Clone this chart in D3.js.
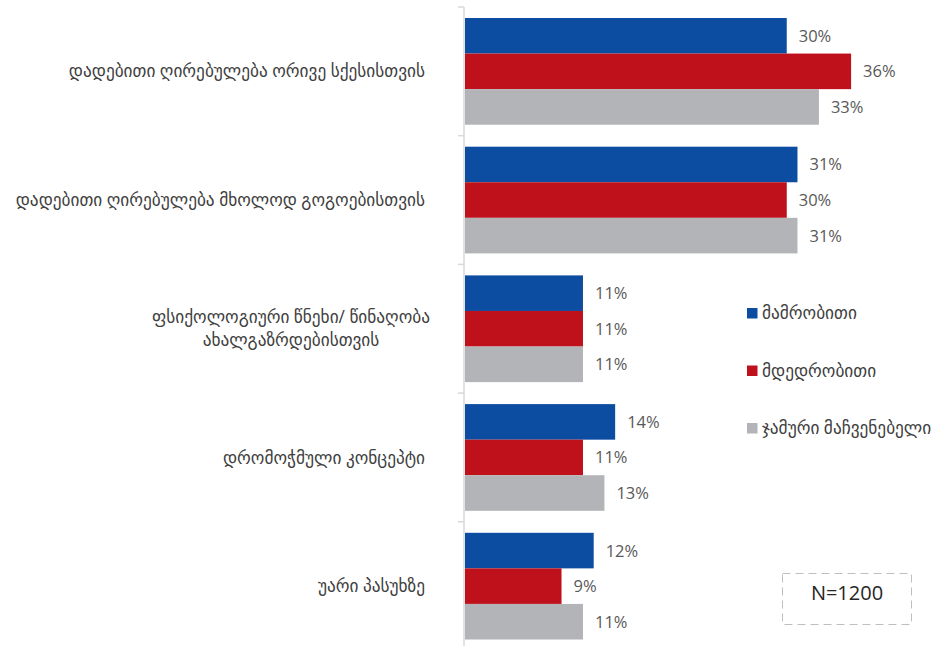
<!DOCTYPE html>
<html>
<head>
<meta charset="utf-8">
<script src="https://cdn.jsdelivr.net/npm/d3@7/dist/d3.min.js"></script>
<style>
  html, body { margin: 0; padding: 0; background: #ffffff; }
  svg { display: block; }
  text { font-family: "Open Sans", "DejaVu Sans", sans-serif; }
</style>
</head>
<body>
<svg id="chart" width="941" height="646"></svg>
<script>
// Answer categories (top to bottom); line breaks mark wrapped labels
const categories = [
  "დადებითი ღირებულება ორივე სქესისთვის",
  "დადებითი ღირებულება მხოლოდ გოგოებისთვის",
  "ფსიქოლოგიური წნეხი/ წინაღობა\nახალგაზრდებისთვის",
  "დრომოჭმული კონცეპტი",
  "უარი პასუხზე"
];
const seriesNames = ["მამრობითი", "მდედრობითი", "ჯამური მაჩვენებელი"];
const maleValues   = [30, 31, 11, 14, 12];
const femaleValues = [36, 30, 11, 11, 9];
const totalValues  = [33, 31, 11, 13, 11];
const seriesColors = ["#0D4DA1", "#BE111B", "#B3B4B7"];
const sampleNote = "N=1200";

const svg = d3.select("#chart");
const seriesValues = [maleValues, femaleValues, totalValues];

const axisX = 464;
const y = d3.scaleBand().domain(categories).range([7, 650.5]).padding(0);
const ySub = d3.scaleBand().domain(seriesNames).range([11, y.bandwidth() - 11]).padding(0);
const x = d3.scaleLinear().domain([0, 40]).range([axisX + 1, axisX + 1 + 429]);

// bars with value labels
categories.forEach((cat, ci) => {
  const g = svg.append("g").attr("transform", `translate(0,${y(cat)})`);
  seriesNames.forEach((s, si) => {
    const v = seriesValues[si][ci];
    g.append("rect")
      .attr("x", x(0))
      .attr("y", ySub(s))
      .attr("width", x(v) - x(0))
      .attr("height", ySub.bandwidth())
      .attr("fill", seriesColors[si]);
    g.append("text")
      .attr("x", x(v) + 12)
      .attr("y", ySub(s) + ySub.bandwidth() / 2)
      .attr("dy", "0.36em")
      .attr("font-size", 16.5)
      .attr("fill", "#595959")
      .text(v + "%");
  });
});

// category axis with ticks on band boundaries
const axisG = svg.append("g");
axisG.append("line")
  .attr("x1", axisX).attr("x2", axisX)
  .attr("y1", 7).attr("y2", 646)
  .attr("stroke", "#D9D9D9").attr("stroke-width", 1.5);
const bounds = categories.map(c => y(c)).concat([y.range()[1]]);
axisG.selectAll("line.tick").data(bounds).enter().append("line")
  .attr("class", "tick")
  .attr("x1", axisX - 6).attr("x2", axisX)
  .attr("y1", d => d).attr("y2", d => d)
  .attr("stroke", "#D9D9D9").attr("stroke-width", 1.5);

// category labels
categories.forEach(cat => {
  const lines = cat.split("\n");
  const cy = y(cat) + y.bandwidth() / 2;
  const lh = 23;
  const t = svg.append("text")
    .attr("font-size", 17.3)
    .attr("fill", "#404040")
    .attr("text-anchor", lines.length > 1 ? "middle" : "end");
  lines.forEach((ln, i) => {
    t.append("tspan")
      .attr("x", lines.length > 1 ? 291 : 425)
      .attr("y", cy + (i - (lines.length - 1) / 2) * lh)
      .attr("dy", "0.35em")
      .text(ln);
  });
});

// legend
const legend = svg.append("g").attr("transform", "translate(747,313)");
seriesNames.forEach((s, i) => {
  const g = legend.append("g").attr("transform", `translate(0,${i * 57.5})`);
  g.append("rect").attr("x", 0).attr("y", -5).attr("width", 10.5).attr("height", 10.5)
    .attr("fill", seriesColors[i]);
  g.append("text").attr("x", 15).attr("y", 0).attr("dy", "0.35em")
    .attr("font-size", 17.3).attr("fill", "#404040").text(s);
});

// sample size box
svg.append("rect")
  .attr("x", 782.5).attr("y", 573.5).attr("width", 129).attr("height", 51)
  .attr("fill", "none").attr("stroke", "#BFBFBF").attr("stroke-width", 1)
  .attr("stroke-dasharray", "8,5");
svg.append("text")
  .attr("x", 847).attr("y", 593).attr("dy", "0.35em")
  .attr("text-anchor", "middle").attr("font-size", 20).attr("fill", "#262626")
  .text(sampleNote);
</script>
</body>
</html>
